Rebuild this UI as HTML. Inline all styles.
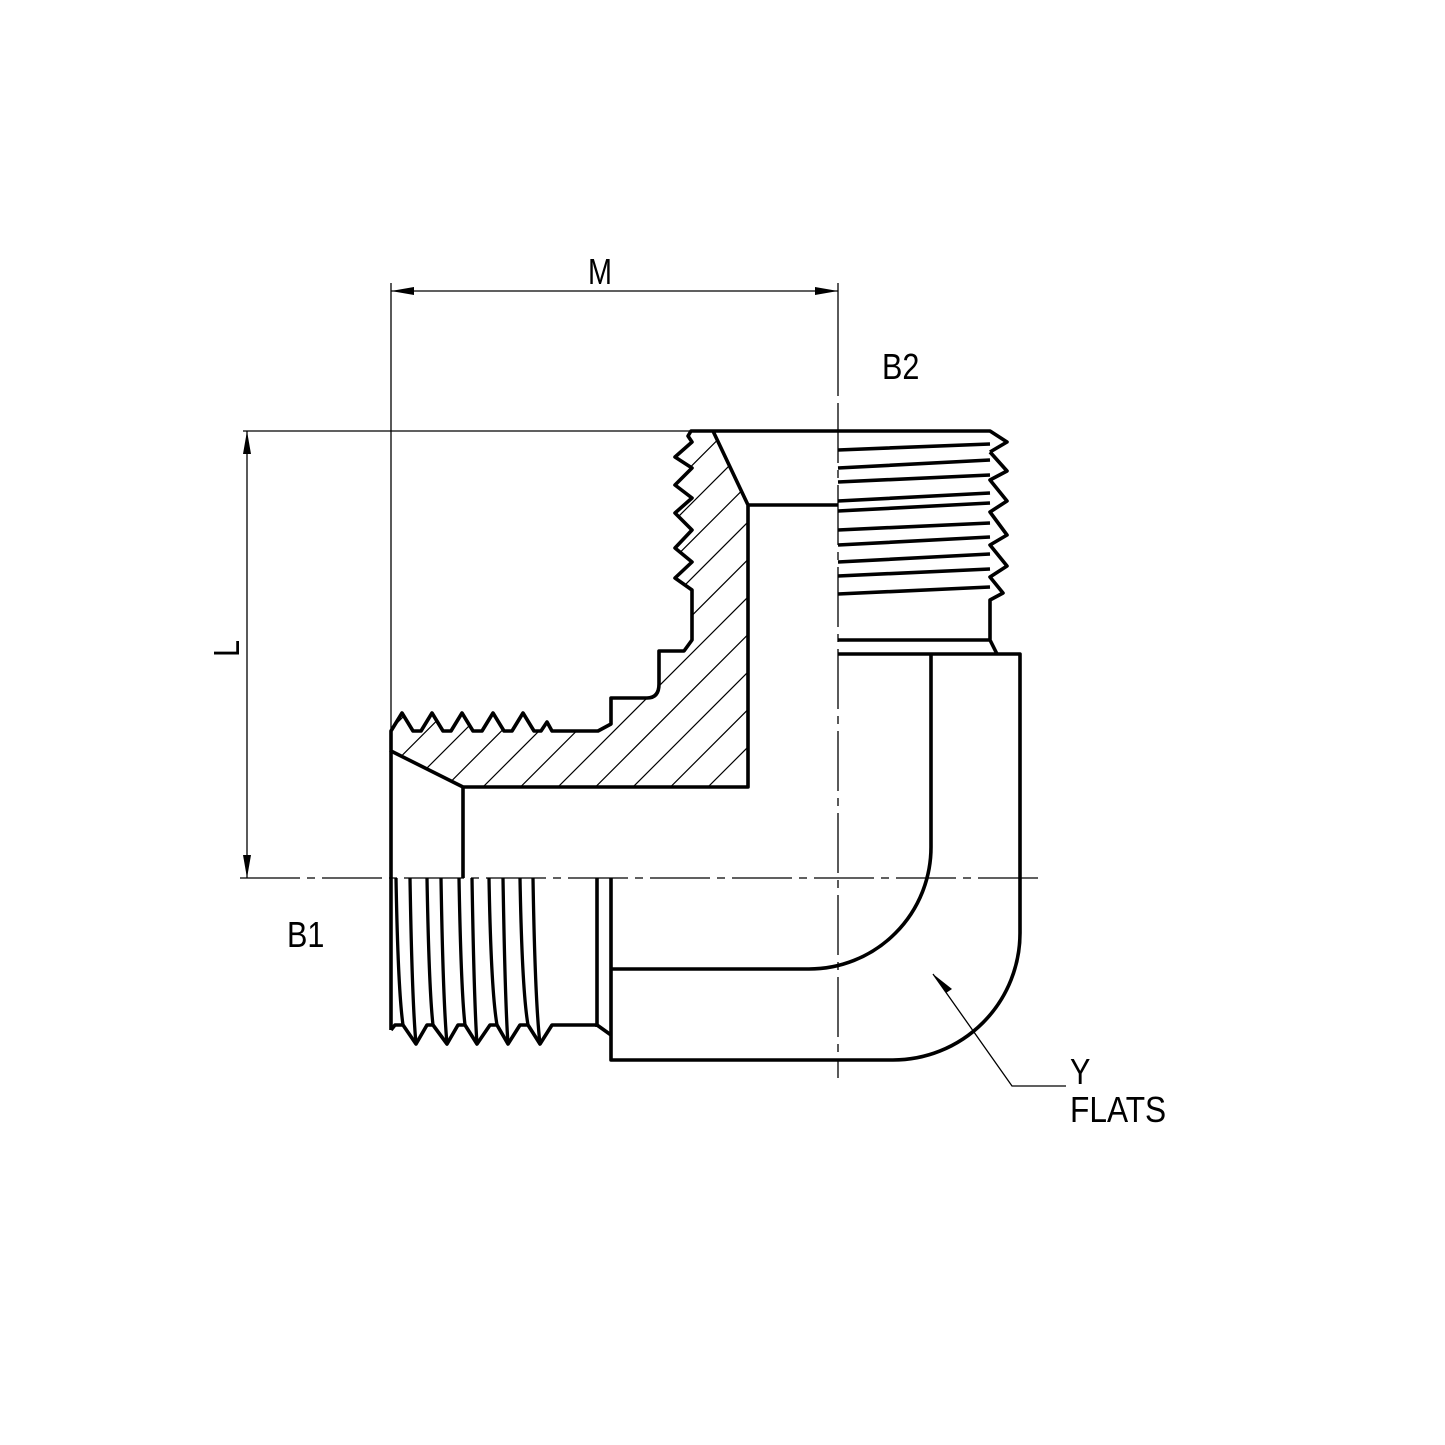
<!DOCTYPE html>
<html><head><meta charset="utf-8"><style>html,body{margin:0;padding:0;background:#fff}svg{display:block}</style></head>
<body>
<svg width="1445" height="1445" viewBox="0 0 1445 1445" xmlns="http://www.w3.org/2000/svg">
<defs>
<clipPath id="hc"><path d="M713,431 L748,505 V787 H463 L391,751 V731 L402,713 L413,731 H421 L432,713 L443,731 H451 L462,713 L473,731 H482 L493,713 L504,731 H512 L523,713 L534,731 H541 L547,722 L552,731 H598 L611,724 V698 H647 Q659,698 659,684 V651 H684 L692,640 V590 L675,578 L692,562 L675,548 L692,530 L675,513 L692,498 L675,485 L692,468 L675,457 L692,442 L688,436 L691,431 Z"/></clipPath>
</defs>
<g fill="none" stroke="#000">
<g stroke-width="1.3">
<line x1="391" y1="283" x2="391" y2="731"/>
<line x1="838" y1="283" x2="838" y2="396"/>
<line x1="391" y1="291" x2="838" y2="291"/>
<line x1="243" y1="431" x2="713" y2="431"/>
<line x1="247" y1="431" x2="247" y2="878"/>
<line x1="838" y1="403" x2="838" y2="1078" stroke-dasharray="60 7 8 7"/>
<line x1="240" y1="878" x2="1043" y2="878" stroke-dasharray="60 7 8 7"/>
<polyline points="933,974 1012,1086 1066,1086"/>
</g>
<g fill="#000" stroke="none">
<polygon points="391,291 414,287 414,295"/>
<polygon points="838,291 815,287 815,295"/>
<polygon points="247,431 243,454 251,454"/>
<polygon points="247,878 243,855 251,855"/>
<polygon points="933,974 952,989 946,993"/>
</g>
<g clip-path="url(#hc)" stroke-width="1.2">
<path d="M1000,120 L200,920 M1037.5,120 L237.5,920 M1075,120 L275,920 M1112.5,120 L312.5,920 M1150,120 L350,920 M1187.5,120 L387.5,920 M1225,120 L425,920 M1262.5,120 L462.5,920 M1300,120 L500,920 M1337.5,120 L537.5,920 M1375,120 L575,920 M1412.5,120 L612.5,920 M1450,120 L650,920 M1487.5,120 L687.5,920 M1525,120 L725,920 M1562.5,120 L762.5,920 M1600,120 L800,920 M1637.5,120 L837.5,920"/>
</g>
<g stroke-width="3.6" stroke-linejoin="round">
<path d="M713,431 L748,505 V787 H463 L391,751 V731 L402,713 L413,731 H421 L432,713 L443,731 H451 L462,713 L473,731 H482 L493,713 L504,731 H512 L523,713 L534,731 H541 L547,722 L552,731 H598 L611,724 V698 H647 Q659,698 659,684 V651 H684 L692,640 V590 L675,578 L692,562 L675,548 L692,530 L675,513 L692,498 L675,485 L692,468 L675,457 L692,442 L688,436 L691,431 H990 L1007,442 L990,452"/>
<line x1="748" y1="505" x2="838" y2="505"/>
<line x1="463" y1="787" x2="463" y2="878"/>
<line x1="391" y1="751" x2="391" y2="1030"/>
<path d="M990,452 L1007,471 L990,480 L1007,501 L990,512 L1007,535 L990,545 L1007,566 L990,577 L1003,593 L990,600 V640 L997,654"/>
<path d="M838,450 L990,444 M838,468 L990,460 M838,482 L990,475 M838,501 L990,493 M838,511 L990,503 M838,530 L990,523 M838,545 L990,537 M838,562 L990,554 M838,576 L990,569 M838,594 L990,587 M838,640 H990"/>
<path d="M838,654 H1020 V933 A127,127 0 0 1 893,1060 H611 V878"/>
<path d="M931,654 V847 A122,122 0 0 1 809,969 H611"/>
<line x1="597" y1="878" x2="597" y2="1027"/>
<path d="M391,1030 L395,1025 H403 L416,1044 L427,1025 H433 L447,1044 L458,1025 H465 L477,1044 L490,1025 H497 L508,1044 L520,1025 H528 L540,1044 L552,1025 H597 L611,1035"/>
</g>
<g stroke-width="3.3">
<path d="M396,878 Q398,990 403,1025 M410,878 Q412,1000 416,1044 M427,878 Q429,990 433,1025 M441,878 Q443,1000 447,1044 M459,878 Q461,990 465,1025 M472,878 Q474,1000 477,1044 M489,878 Q491,990 497,1025 M503,878 Q505,1000 508,1044 M520,878 Q522,990 528,1025 M533,878 Q535,1000 540,1044"/>
</g>
</g>
<g font-family="'Liberation Sans',sans-serif" font-size="36" fill="#000">
<text x="600" y="284" text-anchor="middle" transform="translate(600,284) scale(0.8,1) translate(-600,-284)">M</text>
<text x="882" y="379" transform="translate(882,379) scale(0.85,1) translate(-882,-379)">B2</text>
<text x="287" y="947" transform="translate(287,947) scale(0.85,1) translate(-287,-947)">B1</text>
<text x="0" y="0" transform="translate(239,657) rotate(-90) scale(0.85,1)">L</text>
<text x="1070" y="1084" transform="translate(1070,1084) scale(0.85,1) translate(-1070,-1084)">Y</text>
<text x="1070" y="1122" transform="translate(1070,1122) scale(0.88,1) translate(-1070,-1122)">FLATS</text>
</g>
</svg>
</body></html>
